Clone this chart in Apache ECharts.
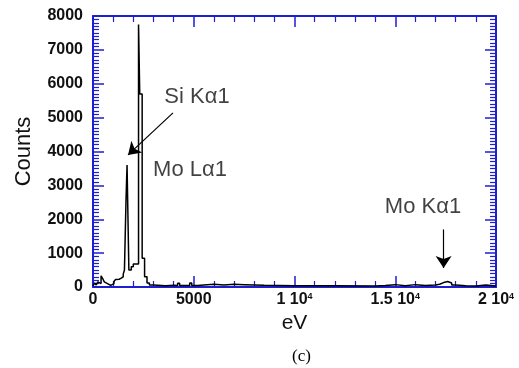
<!DOCTYPE html>
<html>
<head>
<meta charset="utf-8">
<script src="https://cdn.jsdelivr.net/npm/echarts@6/dist/echarts.min.js"></script>
<style>
  html, body { margin: 0; padding: 0; background: #fff; }
  #chart { width: 519px; height: 368px; }
</style>
</head>
<body>
<div id="chart"></div>
<script>
// spectrum, left edge of each bin (eV) and counts in that bin
const energy = [0, 80, 160, 240, 320, 400, 480, 560, 640, 720, 800, 880, 960, 1040, 1120, 1200, 1300, 1400, 1500, 1560,
  1640, 1690, 1780, 1900, 2000, 2260, 2320, 2440, 2560, 2680, 2800, 3000, 3600, 4000, 4200, 4300, 4800, 4900, 5200,
  5500, 6000, 6500, 7000, 7500, 8000, 8500, 10000, 12000, 14000, 14500, 15000, 15500, 16000, 16500, 17000, 17200,
  17400, 17600, 17800, 18000, 18500, 19000, 19500, 20000]
const counts = [30, 120, 60, 150, 100, 330, 250, 150, 100, 60, 50, 80, 100, 160, 220, 230, 260, 300, 380, 500,
  2600, 3600, 500, 600, 680, 7750, 5700, 850, 300, 120, 60, 40, 50, 45, 110, 45, 120, 45, 60,
  80, 60, 80, 70, 60, 50, 40, 35, 30, 45, 70, 40, 70, 45, 60, 80, 130,
  160, 120, 60, 40, 30, 60, 30, 30]

// peak labels and arrows (data units)
const labelText = ['Si Kα1', 'Mo Lα1', 'Mo Kα1']
const labelEnergy = [5160, 4814, 16378]
const labelCounts = [5609, 3454, 2362]
const arrowFrom = [[3970, 5140], [17400, 1700]]
const arrowTo = [[1740, 3900], [17400, 560]]

const axisBlue = '#1e1ed2'
const font = 'Liberation Sans, Arial, sans-serif'

const xLabel = (v) => {
  if (v === 0) return '0'
  if (v === 5000) return '5000'
  if (v === 10000) return '1 10{s|4}'
  if (v === 15000) return '1.5 10{s|4}'
  if (v === 20000) return '2 10{s|4}'
  return ''
}

const axisLine = { show: true, onZero: false, lineStyle: { color: axisBlue, width: 2 } }
const axisTick = { show: true, inside: true, length: 11, lineStyle: { color: axisBlue, width: 1.5 } }
const minorTick = (n) => ({ show: true, splitNumber: n, length: 6, lineStyle: { color: axisBlue, width: 1.2 } })

const chart = echarts.init(document.getElementById('chart'))
chart.setOption({
  animation: false,
  title: {
    text: '(c)',
    left: 287,
    top: 343,
    textStyle: { fontFamily: 'Liberation Serif, Times New Roman, serif', fontSize: 17, fontWeight: 'normal', color: '#000' }
  },
  grid: { left: 93, right: 23, top: 16, bottom: 81 },
  xAxis: [
    {
      type: 'value', position: 'bottom', min: 0, max: 20000, interval: 5000,
      axisLine, axisTick, minorTick: minorTick(5), splitLine: { show: false },
      name: 'eV', nameLocation: 'middle', nameGap: 26,
      nameTextStyle: { fontFamily: font, fontSize: 21, color: '#111' },
      axisLabel: {
        margin: 5, formatter: xLabel,
        fontFamily: font, fontSize: 16, fontWeight: 'bold', color: '#111',
        rich: { s: { fontSize: 9, fontWeight: 'bold', verticalAlign: 'top', lineHeight: 10, color: '#111' } }
      }
    },
    {
      type: 'value', position: 'top', min: 0, max: 20000, interval: 5000,
      axisLine, axisTick, minorTick: minorTick(5), splitLine: { show: false },
      axisLabel: { show: false }
    }
  ],
  yAxis: [
    {
      type: 'value', position: 'left', min: 0, max: 8000, interval: 1000,
      axisLine, axisTick, minorTick: minorTick(10), splitLine: { show: false },
      name: 'Counts', nameLocation: 'middle', nameGap: 58, nameRotate: 90,
      nameTextStyle: { fontFamily: font, fontSize: 22, color: '#111' },
      axisLabel: { margin: 10, formatter: (v) => String(v), fontFamily: font, fontSize: 16, fontWeight: 'bold', color: '#111' }
    },
    {
      type: 'value', position: 'right', min: 0, max: 8000, interval: 1000,
      axisLine, axisTick, minorTick: minorTick(10), splitLine: { show: false },
      axisLabel: { show: false }
    }
  ],
  series: [
    {
      type: 'line',
      step: 'end',
      data: energy.map((e, i) => [e, counts[i]]),
      showSymbol: false,
      lineStyle: { color: '#000', width: 1.5 },
      markLine: {
        silent: true,
        symbol: ['none', 'arrow'],
        symbolSize: [12, 12],
        label: { show: false },
        lineStyle: { color: '#000', width: 1.2, type: 'solid' },
        data: arrowFrom.map((p, i) => [{ coord: p }, { coord: arrowTo[i] }])
      }
    },
    {
      type: 'scatter',
      symbolSize: 0,
      silent: true,
      data: labelText.map((t, i) => [labelEnergy[i], labelCounts[i], t]),
      label: {
        show: true,
        position: 'inside',
        formatter: (p) => p.value[2],
        fontFamily: font, fontSize: 22, color: '#111', textBorderWidth: 0
      }
    }
  ]
})
</script>
</body>
</html>
